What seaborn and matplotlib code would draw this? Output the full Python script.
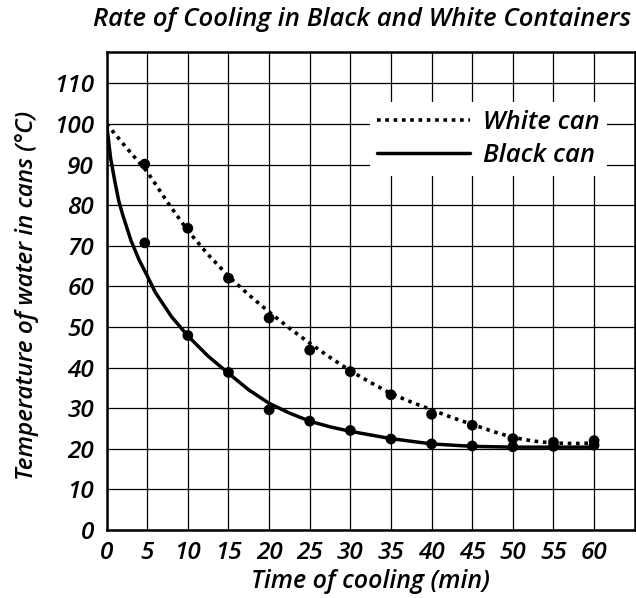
import matplotlib
matplotlib.use('Agg')
import matplotlib.pyplot as plt
import seaborn as sns

# measured points (the 5-minute dots sit slightly left of the grid line)
white_time = [4.7, 10, 15, 20, 25, 30, 35, 40, 45, 50, 55, 60]
white_temp = [90.1, 74.3, 62.0, 52.2, 44.3, 39.0, 33.3, 28.5, 25.8, 22.5, 21.6, 22.0]
black_time = [4.7, 10, 15, 20, 25, 30, 35, 40, 45, 50, 55, 60]
black_temp = [70.7, 47.9, 38.8, 29.6, 26.8, 24.5, 22.4, 21.2, 20.7, 20.5, 20.6, 20.9]

# smooth best-fit curves
white_curve_time = [0, 2.5, 5, 7.5, 10, 12.5, 15, 17.5, 20, 22.5, 25, 27.5, 30,
                    32.5, 35, 37.5, 40, 42.5, 45, 47.5, 50, 52.5, 55, 57.5, 60]
white_curve_temp = [100, 94.0, 88.2, 80.7, 73.7, 67.8, 62.5, 57.9, 53.7, 49.7, 46.0, 42.5, 39.2,
                    36.3, 33.6, 31.5, 29.6, 27.7, 26.0, 24.3, 22.8, 21.9, 21.4, 21.3, 21.4]
black_curve_time = [0, 0.5, 1, 1.5, 2, 3, 4, 5, 6, 7, 8, 10, 12.5, 15, 17.5, 20,
                    22.5, 25, 27.5, 30, 35, 40, 45, 50, 55, 60]
black_curve_temp = [100, 91.5, 86.0, 81.0, 77.5, 71.3, 66.5, 62.6, 58.5, 55.5, 52.5, 47.8, 42.8,
                    38.6, 34.5, 31.2, 28.8, 26.8, 25.4, 24.3, 22.5, 21.2, 20.6, 20.4, 20.4, 20.4]

x_ticks = list(range(0, 61, 5))
y_ticks = list(range(0, 111, 10))

sns.set_style("white")
plt.rcParams['font.family'] = ['Open Sans', 'DejaVu Sans']
plt.rcParams['text.color'] = 'black'
font = dict(style='italic', weight='semibold', color='black')

fig = plt.figure(figsize=(6.36, 5.98), dpi=100)
ax = fig.add_axes([0.1676, 0.1137, 0.8304, 0.7993])

sns.lineplot(x=white_curve_time, y=white_curve_temp, ax=ax, color='black',
             linewidth=2.6, linestyle=(0, (1, 1.3)), sort=False, estimator=None)
white_line = ax.lines[-1]
white_line.set_dash_capstyle('butt')
sns.lineplot(x=black_curve_time, y=black_curve_temp, ax=ax, color='black',
             linewidth=2.5, sort=False, estimator=None)
black_line = ax.lines[-1]

sns.scatterplot(x=white_time, y=white_temp, ax=ax, color='black', s=60, edgecolor='none', zorder=5)
sns.scatterplot(x=black_time, y=black_temp, ax=ax, color='black', s=60, edgecolor='none', zorder=5)

ax.set_xlim(0, 65)
ax.set_ylim(0, 117.7)
ax.set_xticks(x_ticks)
ax.set_yticks(y_ticks)
ax.set_xticklabels([str(t) for t in x_ticks], fontsize=17.5, **font)
ax.set_yticklabels([str(t) for t in y_ticks], fontsize=17.5, **font)
ax.tick_params(axis='x', length=0, pad=8)
ax.tick_params(axis='y', length=0, pad=9)

ax.grid(True, color='black', linewidth=0.9)
ax.set_axisbelow(True)
for side in ['left', 'right', 'top', 'bottom']:
    ax.spines[side].set_visible(True)
    ax.spines[side].set_color('black')
    ax.spines[side].set_linewidth(1.8)

ax.set_xlabel("Time of cooling (min)", fontsize=18, labelpad=3, **font)
ax.set_ylabel("Temperature of water in cans (°C)", fontsize=17.5, **font)
ax.yaxis.set_label_coords(-0.128, 0.49)
fig.text(0.57, 0.968, "Rate of Cooling in Black and White Containers",
         ha='center', va='center', fontsize=18.5, **font)

leg = ax.legend(handles=[white_line, black_line], labels=["White can", "Black can"],
                loc='upper right', bbox_to_anchor=(0.972, 0.922), frameon=True,
                facecolor='white', edgecolor='none', framealpha=1, fancybox=False,
                handlelength=3.6, handletextpad=0.5, borderpad=0.3, labelspacing=0.32,
                prop=dict(family=['Open Sans', 'DejaVu Sans'], style='italic',
                          weight='semibold', size=18.5))

fig.savefig("out.png", dpi=100)
